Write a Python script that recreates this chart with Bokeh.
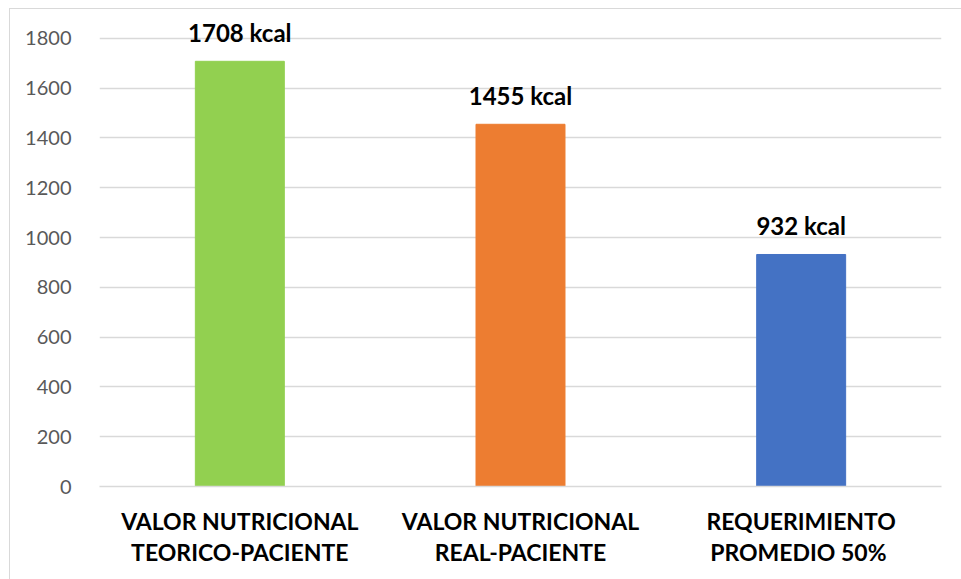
from bokeh.plotting import figure
from bokeh.models import ColumnDataSource, LabelSet, FactorRange, Range1d, FixedTicker
from bokeh.core.properties import value
from bokeh.embed import file_html
from bokeh.resources import INLINE

categories = ["VALOR NUTRICIONAL\nTEORICO-PACIENTE",
              "VALOR NUTRICIONAL\nREAL-PACIENTE",
              "REQUERIMIENTO\nPROMEDIO  50%"]
values = [1708, 1455, 932]
value_labels = ["1708 kcal", "1455 kcal", "932 kcal"]
colors = ["#92D050", "#ED7D31", "#4472C4"]
y_ticks = [0, 200, 400, 600, 800, 1000, 1200, 1400, 1600, 1800]

FONT = "Lato"

source = ColumnDataSource(dict(cat=categories, val=values, lab=value_labels, col=colors))

p = figure(width=952, height=571, x_range=FactorRange(*categories, range_padding=0),
           y_range=Range1d(0, 1888), output_backend="svg", toolbar_location=None,
           min_border_left=89, min_border_right=21, min_border_top=7, min_border_bottom=94)
p.margin = (8, 0, 0, 9)
p.styles = {"border-top": "1px solid #D9D9D9", "border-left": "1px solid #D9D9D9"}

p.vbar(x="cat", top="val", width=0.317, color="col", source=source)

labels = LabelSet(x="cat", y="val", text="lab", source=source, text_align="center",
                  text_baseline="alphabetic", y_offset=19, text_font=value(FONT),
                  text_font_style="bold", text_font_size="24px", text_color="#000000")
p.add_layout(labels)

p.outline_line_color = None
p.background_fill_color = "white"
p.border_fill_color = "white"

p.xgrid.grid_line_color = None
p.ygrid.grid_line_color = "#D9D9D9"
p.ygrid.grid_line_width = 1.5

p.yaxis.ticker = FixedTicker(ticks=y_ticks)
p.yaxis.axis_line_color = None
p.yaxis.major_tick_line_color = None
p.yaxis.minor_tick_line_color = None
p.yaxis.major_label_text_font = FONT
p.yaxis.major_label_text_font_size = "20px"
p.yaxis.major_label_text_color = "#595959"
p.yaxis.major_label_standoff = 22

p.xaxis.axis_line_color = "#D9D9D9"
p.xaxis.axis_line_width = 1.5
p.xaxis.major_tick_line_color = None
p.xaxis.minor_tick_line_color = None
p.xaxis.major_label_text_font = FONT
p.xaxis.major_label_text_font_style = "bold"
p.xaxis.major_label_text_font_size = "23px"
p.xaxis.major_label_text_color = "#000000"
p.xaxis.major_label_standoff = 14
p.xaxis.major_label_text_line_height = 1.12

open("out.html", "w").write(file_html(p, INLINE))
